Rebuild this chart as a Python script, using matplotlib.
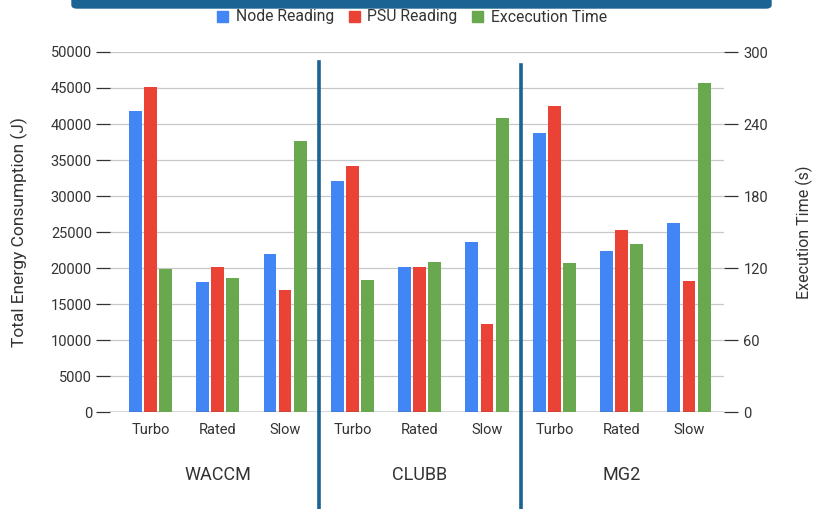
import numpy as np
import matplotlib
matplotlib.use('Agg')
import matplotlib.pyplot as plt
from matplotlib.patches import Patch, FancyBboxPatch

plt.rcParams['font.family'] = ['Roboto', 'DejaVu Sans']

# data
apps = ['WACCM', 'CLUBB', 'MG2']
modes = ['Turbo', 'Rated', 'Slow']
node_reading = [41800, 18000, 21900, 32100, 20100, 23600, 38800, 22400, 26250]
psu_reading = [45200, 20100, 17000, 34200, 20200, 12200, 42500, 25300, 18150]
exec_time = [119, 112, 226, 110, 125, 245, 124, 140, 274]

c_node = '#4285F4'
c_psu = '#EA4335'
c_exec = '#6AA84F'
c_line = '#1B6393'
txt = '#333333'

W, H = 814, 509
fig = plt.figure(figsize=(W / 100, H / 100), dpi=100)
ax = fig.add_axes([110 / W, 1 - 412 / H, 614 / W, 360 / H])
ax2 = ax.twinx()

x = np.arange(len(node_reading))
bw = 0.19
step = 0.225
ax.bar(x - step, node_reading, bw, color=c_node, zorder=3)
ax.bar(x, psu_reading, bw, color=c_psu, zorder=3)
ax2.bar(x + step, exec_time, bw, color=c_exec, zorder=3)

ax.set_xlim(-0.6, 8.52)
ax.set_ylim(0, 50000)
ax2.set_ylim(0, 300)
ax.set_yticks(np.arange(0, 50001, 5000))
ax2.set_yticks(np.arange(0, 301, 60))
ax.set_xticks(x)
ax.set_xticklabels(modes * 3)

ax.grid(axis='y', color='#c8c8c8', linewidth=0.9, zorder=0)
ax.set_axisbelow(True)
for a in (ax, ax2):
    for s in a.spines.values():
        s.set_visible(False)
ax.axhline(0, color='#555555', linewidth=1.0, zorder=4)

ax.tick_params(axis='y', length=10, width=0.9, color='#333333', labelsize=10.5,
               labelcolor=txt, pad=3)
ax2.tick_params(axis='y', length=10, width=0.9, color='#333333', labelsize=10.5,
                labelcolor=txt, pad=4)
ax.tick_params(axis='x', length=0, labelsize=10.5, labelcolor=txt, pad=8)

ax.set_ylabel('Total Energy Consumption (J)', fontsize=12.5, color=txt, labelpad=16)
ax2.set_ylabel('Execution Time (s)', fontsize=11.5, color=txt, labelpad=20)

# app names under the mode labels
for i, name in enumerate(apps):
    ax.text(3 * i + 1, -0.175, name, transform=ax.get_xaxis_transform(),
            ha='center', va='center', fontsize=13, color=txt)

# dividers between apps
ax.plot([2.5, 2.5], [0.972, -0.3], transform=ax.get_xaxis_transform(),
        color=c_line, linewidth=2.6, clip_on=False, zorder=5)
ax.plot([5.5, 5.5], [0.964, -0.3], transform=ax.get_xaxis_transform(),
        color=c_line, linewidth=2.6, clip_on=False, zorder=5)

# banner at the top (cut off title box)
fig.patches.append(FancyBboxPatch((72 / W, 1 - 8 / H), 699 / W, 20 / H,
                                  boxstyle='round,pad=0,rounding_size=0.006',
                                  transform=fig.transFigure, color=c_line))

handles = [Patch(color=c_node, label='Node Reading'),
           Patch(color=c_psu, label='PSU Reading'),
           Patch(color=c_exec, label='Excecution Time')]
fig.legend(handles=handles, loc='center', bbox_to_anchor=(412 / W, 1 - 17 / H),
           ncol=3, frameon=False, fontsize=11.3, handlelength=0.7, handleheight=0.7,
           handletextpad=0.5, columnspacing=0.9, labelcolor=txt)

fig.savefig('out.png', dpi=100)
